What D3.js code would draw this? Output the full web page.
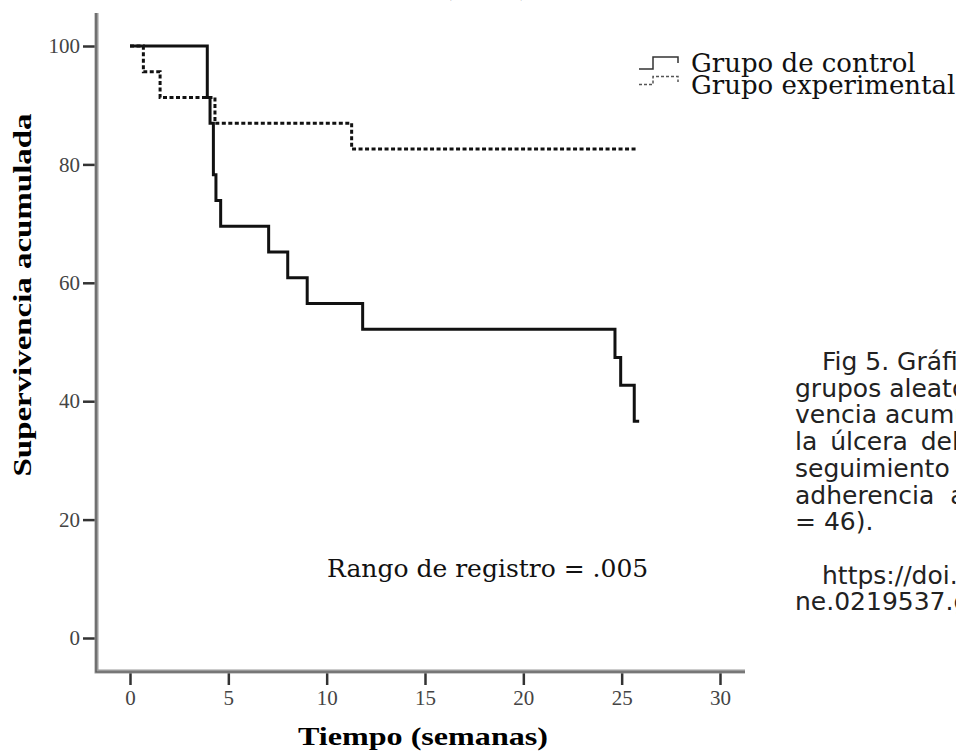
<!DOCTYPE html>
<html>
<head>
<meta charset="utf-8">
<script src="https://cdn.jsdelivr.net/npm/d3@7"></script>
<style>
  body { margin: 0; background: white; }
  svg { display: block; }
</style>
</head>
<body>
<div id="chart"></div>
<script>
// Kaplan-Meier step data (tiempo en semanas, supervivencia %)
const controlTimes = [0, 3.93, 4.07, 4.24, 4.37, 4.61, 7.05, 8.02, 9.01, 11.83, 24.66, 24.95, 25.64, 25.89];
const controlSurv  = [100, 91.3, 86.96, 78.26, 73.91, 69.57, 65.22, 60.87, 56.52, 52.17, 47.4, 42.7, 36.6, 36.6];
const expTimes = [0, 0.68, 1.53, 4.32, 11.27, 25.8];
const expSurv  = [100, 95.65, 91.3, 86.96, 82.61, 82.61];

const xTicks = [0, 5, 10, 15, 20, 25, 30];
const yTicks = [0, 20, 40, 60, 80, 100];
const legendLabels = ["Grupo de control", "Grupo experimental"];
const annotation = "Rango de registro = .005";
const captionLines = [
  "Fig 5. Gráfico de Kaplan-Meier de los",
  "grupos aleatorizados: supervi-",
  "vencia acumulada hasta la curación de",
  "la úlcera del pie diabético durante el",
  "seguimiento según el grado de",
  "adherencia  al tratamiento (n",
  "= 46).",
  "",
  "https://doi.org/10.1371/journal.po",
  "ne.0219537.g005"
];

const width = 956, height = 752;

const svg = d3.select("#chart")
  .append("svg")
    .attr("width", width)
    .attr("height", height)
    .style("background", "white");

const x = d3.scaleLinear().domain([0, 30]).range([130, 720]);
const y = d3.scaleLinear().domain([0, 100]).range([638, 46]);

// top title, mostly cut off above the frame
svg.append("text")
  .attr("x", 363)
  .attr("y", -5)
  .style("font-family", "'Liberation Serif', serif")
  .style("font-weight", "bold")
  .style("font-size", "26px")
  .text("Grupo (n = 46)");

// axes
const yAxis = svg.append("g")
  .attr("transform", "translate(95,0)")
  .call(d3.axisLeft(y).tickValues(yTicks).tickSize(12).tickPadding(3));

const xAxis = svg.append("g")
  .attr("transform", "translate(0,672)")
  .call(d3.axisBottom(x).tickValues(xTicks).tickSize(13).tickPadding(5));

[yAxis, xAxis].forEach(g => {
  g.select(".domain").remove();
  g.selectAll(".tick line").attr("stroke", "#333").attr("stroke-width", 2.5);
  g.selectAll(".tick text")
    .attr("fill", "#444")
    .style("font-family", "'Liberation Serif', 'Times New Roman', serif")
    .style("font-size", "21px");
});

// SPSS style double axis lines
svg.append("path")
  .attr("d", "M96.5,13 V671.5 H745")
  .attr("fill", "none")
  .attr("stroke", "#9a9a9a")
  .attr("stroke-width", 4);
svg.append("path")
  .attr("d", "M96,13 V672 H745")
  .attr("fill", "none")
  .attr("stroke", "#555")
  .attr("stroke-width", 1.2);

// axis titles
svg.append("text")
  .attr("transform", "translate(31,295) rotate(-90)")
  .attr("text-anchor", "middle")
  .attr("textLength", 363)
  .attr("lengthAdjust", "spacingAndGlyphs")
  .style("font-family", "'Liberation Serif', serif")
  .style("font-weight", "bold")
  .style("font-size", "25px")
  .text("Supervivencia acumulada");

svg.append("text")
  .attr("x", 423)
  .attr("y", 745)
  .attr("text-anchor", "middle")
  .attr("textLength", 250)
  .attr("lengthAdjust", "spacingAndGlyphs")
  .style("font-family", "'Liberation Serif', serif")
  .style("font-weight", "bold")
  .style("font-size", "25px")
  .text("Tiempo (semanas)");

// survival curves
const line = d3.line()
  .x(d => x(d[0]))
  .y(d => y(d[1]))
  .curve(d3.curveStepAfter);

svg.append("path")
  .datum(d3.zip(expTimes, expSurv))
  .attr("fill", "none")
  .attr("stroke", "#111")
  .attr("stroke-width", 3)
  .attr("stroke-dasharray", "4,2.5")
  .attr("d", line);

svg.append("path")
  .datum(d3.zip(controlTimes, controlSurv))
  .attr("fill", "none")
  .attr("stroke", "#111")
  .attr("stroke-width", 3)
  .attr("d", line);

// legend: little step glyphs + labels
const legend = svg.append("g");
const glyphY = [[69, 57, 63], [84.5, 76.5, 82]];
legendLabels.forEach((label, i) => {
  const [lo, hi, end] = glyphY[i];
  legend.append("path")
    .attr("d", `M639,${lo} H653 V${hi} H678 V${end}`)
    .attr("fill", "none")
    .attr("stroke", i === 0 ? "#333" : "#555")
    .attr("stroke-width", 1.5)
    .attr("stroke-dasharray", i === 0 ? null : "3,2");
  legend.append("text")
    .attr("x", 691)
    .attr("y", 72 + i * 21.5)
    .style("font-family", "'DejaVu Serif', serif")
    .style("font-size", "26px")
    .attr("fill", "#111")
    .text(label);
});

// log-rank annotation
svg.append("text")
  .attr("x", 327)
  .attr("y", 577)
  .style("font-family", "'DejaVu Serif', serif")
  .style("font-size", "25px")
  .attr("fill", "#111")
  .text(annotation);

// caption on the right (clipped by the frame)
const caption = svg.append("text")
  .style("font-family", "'DejaVu Sans', sans-serif")
  .style("font-size", "25px")
  .style("white-space", "pre")
  .attr("fill", "#222");

captionLines.forEach((t, i) => {
  if (!t) return;
  const indent = (i === 0 || i === 8) ? 822 : 795;
  caption.append("tspan")
    .attr("x", indent)
    .attr("y", 370 + i * 26.7)
    .attr("word-spacing", i === 3 ? 5 : 0)
    .text(t);
});
</script>
</body>
</html>
